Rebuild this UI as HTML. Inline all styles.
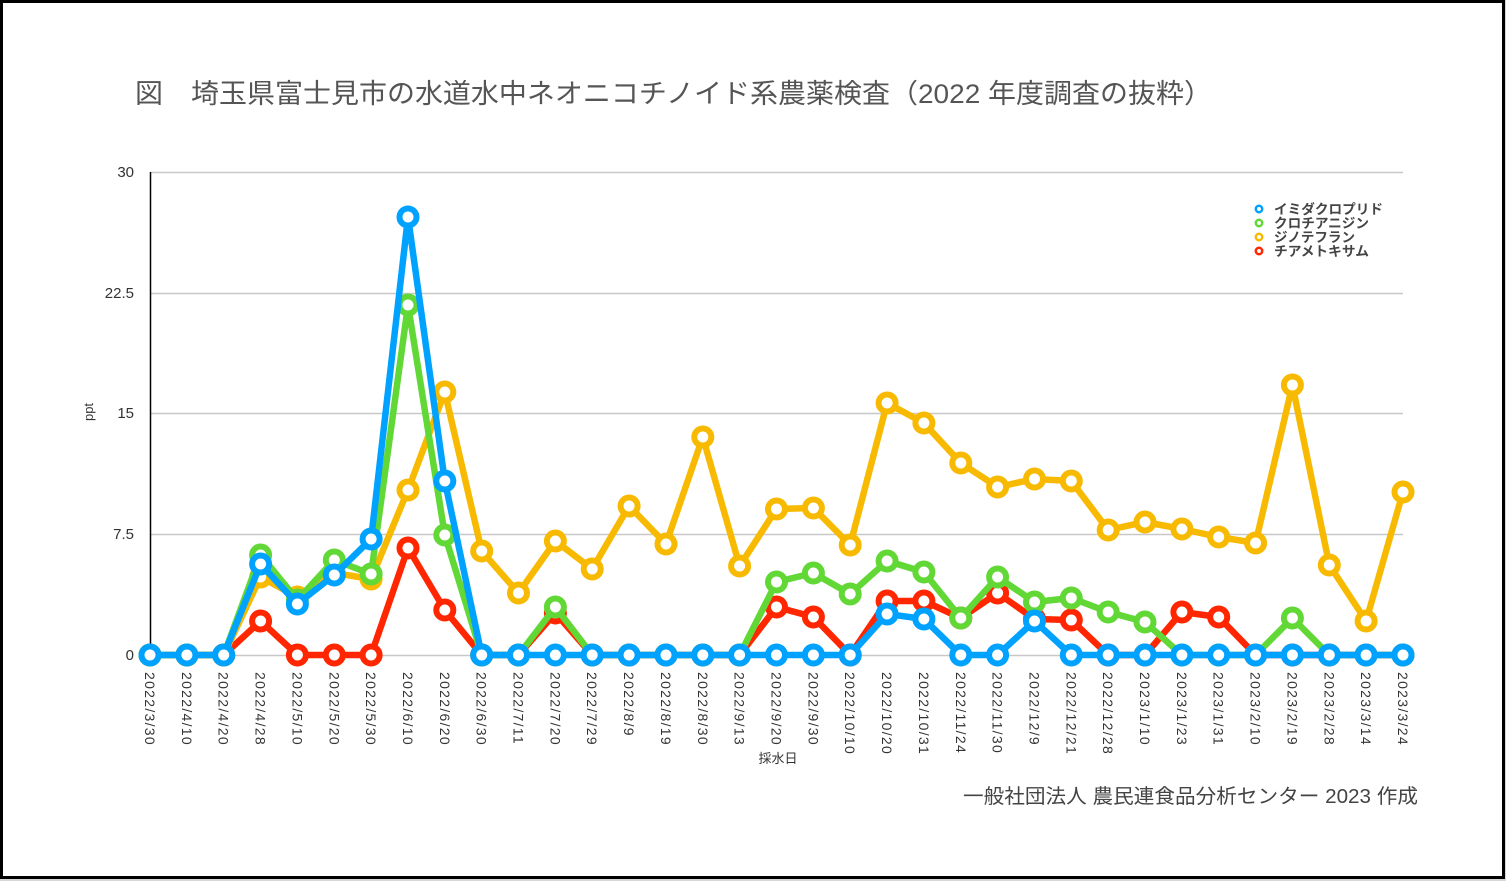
<!DOCTYPE html>
<html><head><meta charset="utf-8"><style>
html,body{margin:0;padding:0;background:#fff;}
svg{display:block;}
text{font-family:"Liberation Sans","Noto Sans CJK JP",sans-serif;}
</style></head><body>
<svg width="1506" height="881" viewBox="0 0 1506 881" xmlns="http://www.w3.org/2000/svg">
<rect x="0" y="0" width="1506" height="881" fill="#d8d8d8"/>
<rect x="1.5" y="1.5" width="1502" height="876" fill="#fff" stroke="#000" stroke-width="3"/>

<text x="135" y="103" font-size="27" fill="#555" textLength="1077" lengthAdjust="spacingAndGlyphs">図　埼玉県富士見市の水道水中ネオニコチノイド系農薬検査（2022 年度調査の抜粋）</text>

<g stroke="#c8c8c8" stroke-width="1.5">
<line x1="150" y1="172.5" x2="1403" y2="172.5"/>
<line x1="150" y1="293.5" x2="1403" y2="293.5"/>
<line x1="150" y1="413.5" x2="1403" y2="413.5"/>
<line x1="150" y1="534.5" x2="1403" y2="534.5"/>
<line x1="150" y1="655.5" x2="1403" y2="655.5"/>
</g>
<line x1="150.5" y1="172" x2="150.5" y2="656" stroke="#000" stroke-width="1.5"/>

<g font-size="15" fill="#333" text-anchor="end">
<text x="134" y="177">30</text>
<text x="134" y="298">22.5</text>
<text x="134" y="418">15</text>
<text x="134" y="539">7.5</text>
<text x="134" y="660">0</text>
</g>
<text transform="translate(93,412) rotate(-90)" font-size="13" fill="#333" text-anchor="middle">ppt</text>

<g font-size="14" fill="#333" letter-spacing="1.3">
<text transform="translate(145,672) rotate(90)">2022/3/30</text>
<text transform="translate(181.9,672) rotate(90)">2022/4/10</text>
<text transform="translate(218.7,672) rotate(90)">2022/4/20</text>
<text transform="translate(255.6,672) rotate(90)">2022/4/28</text>
<text transform="translate(292.4,672) rotate(90)">2022/5/10</text>
<text transform="translate(329.3,672) rotate(90)">2022/5/20</text>
<text transform="translate(366.1,672) rotate(90)">2022/5/30</text>
<text transform="translate(403,672) rotate(90)">2022/6/10</text>
<text transform="translate(439.8,672) rotate(90)">2022/6/20</text>
<text transform="translate(476.7,672) rotate(90)">2022/6/30</text>
<text transform="translate(513.5,672) rotate(90)">2022/7/11</text>
<text transform="translate(550.4,672) rotate(90)">2022/7/20</text>
<text transform="translate(587.2,672) rotate(90)">2022/7/29</text>
<text transform="translate(624.1,672) rotate(90)">2022/8/9</text>
<text transform="translate(661,672) rotate(90)">2022/8/19</text>
<text transform="translate(697.8,672) rotate(90)">2022/8/30</text>
<text transform="translate(734.6,672) rotate(90)">2022/9/13</text>
<text transform="translate(771.5,672) rotate(90)">2022/9/20</text>
<text transform="translate(808.4,672) rotate(90)">2022/9/30</text>
<text transform="translate(845.2,672) rotate(90)">2022/10/10</text>
<text transform="translate(882.1,672) rotate(90)">2022/10/20</text>
<text transform="translate(918.9,672) rotate(90)">2022/10/31</text>
<text transform="translate(955.8,672) rotate(90)">2022/11/24</text>
<text transform="translate(992.6,672) rotate(90)">2022/11/30</text>
<text transform="translate(1029.5,672) rotate(90)">2022/12/9</text>
<text transform="translate(1066.3,672) rotate(90)">2022/12/21</text>
<text transform="translate(1103.2,672) rotate(90)">2022/12/28</text>
<text transform="translate(1140,672) rotate(90)">2023/1/10</text>
<text transform="translate(1176.9,672) rotate(90)">2023/1/23</text>
<text transform="translate(1213.7,672) rotate(90)">2023/1/31</text>
<text transform="translate(1250.6,672) rotate(90)">2023/2/10</text>
<text transform="translate(1287.4,672) rotate(90)">2023/2/19</text>
<text transform="translate(1324.3,672) rotate(90)">2023/2/28</text>
<text transform="translate(1361.1,672) rotate(90)">2023/3/14</text>
<text transform="translate(1398,672) rotate(90)">2023/3/24</text>
</g>
<text x="778" y="763" font-size="13" fill="#333" text-anchor="middle">採水日</text>

<text x="963" y="803" font-size="20" fill="#444" textLength="455" lengthAdjust="spacingAndGlyphs">一般社団法人 農民連食品分析センター 2023 作成</text>

<defs>
<circle id="m" r="8.5" fill="#fff" stroke-width="6"/>
</defs>

<!-- red -->
<g stroke="#FF2600">
<polyline fill="none" stroke-width="6.5" stroke-linejoin="round" points="150,655 186.9,655 223.7,655 260.6,621 297.4,655 334.3,655 371.1,655 408,548 444.8,610 481.7,655 518.5,655 555.4,613 592.2,655 629.1,655 666,655 702.8,655 739.6,655 776.5,607 813.4,617 850.2,655 887.1,601 923.9,601 960.8,618 997.6,593 1034.5,619 1071.3,620 1108.2,655 1145,655 1181.9,612 1218.7,617 1255.6,655 1292.4,655 1329.3,655 1366.1,655 1403,655"/>
<use href="#m" x="150" y="655"/><use href="#m" x="186.9" y="655"/><use href="#m" x="223.7" y="655"/><use href="#m" x="260.6" y="621"/><use href="#m" x="297.4" y="655"/><use href="#m" x="334.3" y="655"/><use href="#m" x="371.1" y="655"/><use href="#m" x="408" y="548"/><use href="#m" x="444.8" y="610"/><use href="#m" x="481.7" y="655"/><use href="#m" x="518.5" y="655"/><use href="#m" x="555.4" y="613"/><use href="#m" x="592.2" y="655"/><use href="#m" x="629.1" y="655"/><use href="#m" x="666" y="655"/><use href="#m" x="702.8" y="655"/><use href="#m" x="739.6" y="655"/><use href="#m" x="776.5" y="607"/><use href="#m" x="813.4" y="617"/><use href="#m" x="850.2" y="655"/><use href="#m" x="887.1" y="601"/><use href="#m" x="923.9" y="601"/><use href="#m" x="960.8" y="618"/><use href="#m" x="997.6" y="593"/><use href="#m" x="1034.5" y="619"/><use href="#m" x="1071.3" y="620"/><use href="#m" x="1108.2" y="655"/><use href="#m" x="1145" y="655"/><use href="#m" x="1181.9" y="612"/><use href="#m" x="1218.7" y="617"/><use href="#m" x="1255.6" y="655"/><use href="#m" x="1292.4" y="655"/><use href="#m" x="1329.3" y="655"/><use href="#m" x="1366.1" y="655"/><use href="#m" x="1403" y="655"/>
</g>

<!-- yellow -->
<g stroke="#F8BA00">
<polyline fill="none" stroke-width="6.5" stroke-linejoin="round" points="150,655 186.9,655 223.7,655 260.6,577 297.4,597 334.3,573 371.1,579 408,490 444.8,392 481.7,551 518.5,593 555.4,541 592.2,569 629.1,506 666,544 702.8,437 739.6,566 776.5,509 813.4,508 850.2,545 887.1,403 923.9,423 960.8,463 997.6,487 1034.5,479 1071.3,481 1108.2,530 1145,522 1181.9,529 1218.7,537 1255.6,543 1292.4,385 1329.3,565 1366.1,621 1403,492"/>
<use href="#m" x="150" y="655"/><use href="#m" x="186.9" y="655"/><use href="#m" x="223.7" y="655"/><use href="#m" x="260.6" y="577"/><use href="#m" x="297.4" y="597"/><use href="#m" x="334.3" y="573"/><use href="#m" x="371.1" y="579"/><use href="#m" x="408" y="490"/><use href="#m" x="444.8" y="392"/><use href="#m" x="481.7" y="551"/><use href="#m" x="518.5" y="593"/><use href="#m" x="555.4" y="541"/><use href="#m" x="592.2" y="569"/><use href="#m" x="629.1" y="506"/><use href="#m" x="666" y="544"/><use href="#m" x="702.8" y="437"/><use href="#m" x="739.6" y="566"/><use href="#m" x="776.5" y="509"/><use href="#m" x="813.4" y="508"/><use href="#m" x="850.2" y="545"/><use href="#m" x="887.1" y="403"/><use href="#m" x="923.9" y="423"/><use href="#m" x="960.8" y="463"/><use href="#m" x="997.6" y="487"/><use href="#m" x="1034.5" y="479"/><use href="#m" x="1071.3" y="481"/><use href="#m" x="1108.2" y="530"/><use href="#m" x="1145" y="522"/><use href="#m" x="1181.9" y="529"/><use href="#m" x="1218.7" y="537"/><use href="#m" x="1255.6" y="543"/><use href="#m" x="1292.4" y="385"/><use href="#m" x="1329.3" y="565"/><use href="#m" x="1366.1" y="621"/><use href="#m" x="1403" y="492"/>
</g>

<!-- green -->
<g stroke="#61D836">
<polyline fill="none" stroke-width="6.5" stroke-linejoin="round" points="150,655 186.9,655 223.7,655 260.6,555 297.4,600 334.3,560 371.1,574 408,305 444.8,535 481.7,655 518.5,655 555.4,607 592.2,655 629.1,655 666,655 702.8,655 739.6,655 776.5,582 813.4,573 850.2,594 887.1,561 923.9,572 960.8,618 997.6,577 1034.5,602 1071.3,598 1108.2,612 1145,622 1181.9,655 1218.7,655 1255.6,655 1292.4,618 1329.3,655 1366.1,655 1403,655"/>
<use href="#m" x="150" y="655"/><use href="#m" x="186.9" y="655"/><use href="#m" x="223.7" y="655"/><use href="#m" x="260.6" y="555"/><use href="#m" x="297.4" y="600"/><use href="#m" x="334.3" y="560"/><use href="#m" x="371.1" y="574"/><use href="#m" x="408" y="305"/><use href="#m" x="444.8" y="535"/><use href="#m" x="481.7" y="655"/><use href="#m" x="518.5" y="655"/><use href="#m" x="555.4" y="607"/><use href="#m" x="592.2" y="655"/><use href="#m" x="629.1" y="655"/><use href="#m" x="666" y="655"/><use href="#m" x="702.8" y="655"/><use href="#m" x="739.6" y="655"/><use href="#m" x="776.5" y="582"/><use href="#m" x="813.4" y="573"/><use href="#m" x="850.2" y="594"/><use href="#m" x="887.1" y="561"/><use href="#m" x="923.9" y="572"/><use href="#m" x="960.8" y="618"/><use href="#m" x="997.6" y="577"/><use href="#m" x="1034.5" y="602"/><use href="#m" x="1071.3" y="598"/><use href="#m" x="1108.2" y="612"/><use href="#m" x="1145" y="622"/><use href="#m" x="1181.9" y="655"/><use href="#m" x="1218.7" y="655"/><use href="#m" x="1255.6" y="655"/><use href="#m" x="1292.4" y="618"/><use href="#m" x="1329.3" y="655"/><use href="#m" x="1366.1" y="655"/><use href="#m" x="1403" y="655"/>
</g>

<!-- blue -->
<g stroke="#00A2FF">
<polyline fill="none" stroke-width="6.5" stroke-linejoin="round" points="150,655 186.9,655 223.7,655 260.6,564 297.4,604 334.3,575 371.1,539 408,217 444.8,481 481.7,655 518.5,655 555.4,655 592.2,655 629.1,655 666,655 702.8,655 739.6,655 776.5,655 813.4,655 850.2,655 887.1,614 923.9,619 960.8,655 997.6,655 1034.5,621 1071.3,655 1108.2,655 1145,655 1181.9,655 1218.7,655 1255.6,655 1292.4,655 1329.3,655 1366.1,655 1403,655"/>
<use href="#m" x="150" y="655"/><use href="#m" x="186.9" y="655"/><use href="#m" x="223.7" y="655"/><use href="#m" x="260.6" y="564"/><use href="#m" x="297.4" y="604"/><use href="#m" x="334.3" y="575"/><use href="#m" x="371.1" y="539"/><use href="#m" x="408" y="217"/><use href="#m" x="444.8" y="481"/><use href="#m" x="481.7" y="655"/><use href="#m" x="518.5" y="655"/><use href="#m" x="555.4" y="655"/><use href="#m" x="592.2" y="655"/><use href="#m" x="629.1" y="655"/><use href="#m" x="666" y="655"/><use href="#m" x="702.8" y="655"/><use href="#m" x="739.6" y="655"/><use href="#m" x="776.5" y="655"/><use href="#m" x="813.4" y="655"/><use href="#m" x="850.2" y="655"/><use href="#m" x="887.1" y="614"/><use href="#m" x="923.9" y="619"/><use href="#m" x="960.8" y="655"/><use href="#m" x="997.6" y="655"/><use href="#m" x="1034.5" y="621"/><use href="#m" x="1071.3" y="655"/><use href="#m" x="1108.2" y="655"/><use href="#m" x="1145" y="655"/><use href="#m" x="1181.9" y="655"/><use href="#m" x="1218.7" y="655"/><use href="#m" x="1255.6" y="655"/><use href="#m" x="1292.4" y="655"/><use href="#m" x="1329.3" y="655"/><use href="#m" x="1366.1" y="655"/><use href="#m" x="1403" y="655"/>
</g>

<!-- legend -->
<g fill="#fff" stroke-width="2.5">
<circle cx="1259" cy="209" r="3.2" stroke="#00A2FF"/>
<circle cx="1259" cy="223" r="3.2" stroke="#61D836"/>
<circle cx="1259" cy="237" r="3.2" stroke="#F8BA00"/>
<circle cx="1259" cy="251" r="3.2" stroke="#FF2600"/>
</g>
<g font-size="13.5" fill="#444" font-weight="bold">
<text x="1274" y="214" textLength="109" lengthAdjust="spacingAndGlyphs">イミダクロプリド</text>
<text x="1274" y="228" textLength="95" lengthAdjust="spacingAndGlyphs">クロチアニジン</text>
<text x="1274" y="242" textLength="81" lengthAdjust="spacingAndGlyphs">ジノテフラン</text>
<text x="1274" y="256" textLength="95" lengthAdjust="spacingAndGlyphs">チアメトキサム</text>
</g>
</svg>
</body></html>
